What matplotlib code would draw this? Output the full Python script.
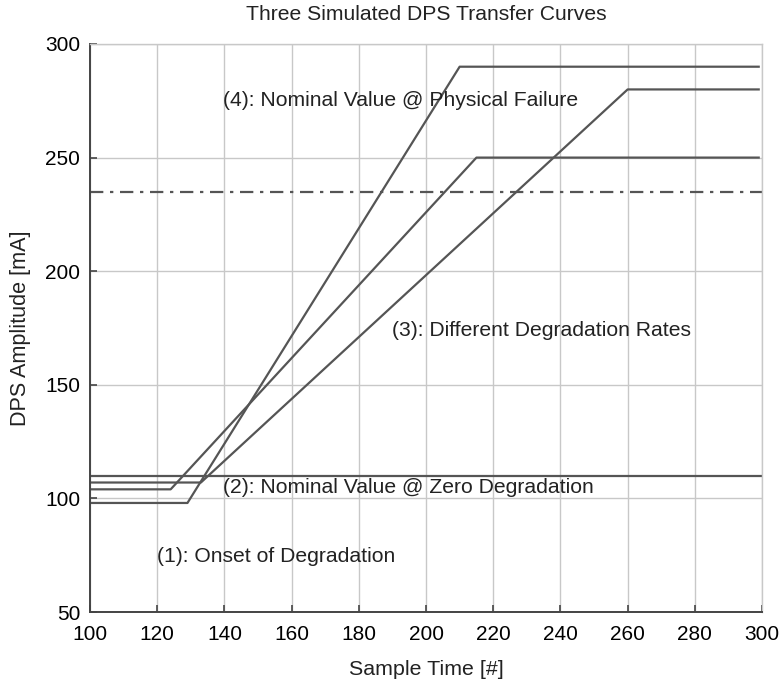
import matplotlib
matplotlib.use("Agg")
import matplotlib.pyplot as plt

plt.rcParams['font.family'] = ['Liberation Sans', 'DejaVu Sans']

# Data: piecewise-linear transfer curves (x breakpoints, y values)
curve_fast_x = [100, 129, 210, 299]
curve_fast_y = [98, 98, 290, 290]
curve_mid_x = [100, 124, 215, 299]
curve_mid_y = [104, 104, 250, 250]
curve_slow_x = [100, 133, 260, 299]
curve_slow_y = [107, 107, 280, 280]
nominal_zero = 110
failure_threshold = 235

x_ticks = [100, 120, 140, 160, 180, 200, 220, 240, 260, 280, 300]
y_ticks = [50, 100, 150, 200, 250, 300]

title = "Three Simulated DPS Transfer Curves"
xlabel = "Sample Time [#]"
ylabel = "DPS Amplitude [mA]"
annotations = [
    (139.6, 275, "(4): Nominal Value @ Physical Failure"),
    (189.8, 174, "(3): Different Degradation Rates"),
    (139.6, 104.6, "(2): Nominal Value @ Zero Degradation"),
    (120, 74.5, "(1): Onset of Degradation"),
]

line_color = "#555555"
grid_color = "#c8c8c8"

fig = plt.figure(figsize=(7.8, 6.82), dpi=100)
ax = fig.add_axes([0.1154, 0.1026, 0.8616, 0.8329])

ax.plot(curve_fast_x, curve_fast_y, color=line_color, lw=1.6)
ax.plot(curve_mid_x, curve_mid_y, color=line_color, lw=1.6)
ax.plot(curve_slow_x, curve_slow_y, color=line_color, lw=1.6)
ax.axhline(nominal_zero, color=line_color, lw=1.6)
ax.axhline(failure_threshold, color=line_color, lw=1.6, ls=(0, (6, 3, 1.5, 3)))

for x, y, s in annotations:
    ax.text(x, y, s, fontsize=15.2, va='center', ha='left', color='#222222')

ax.set_xlim(100, 300)
ax.set_ylim(50, 300)
ax.set_xticks(x_ticks)
ax.set_yticks(y_ticks)
ax.grid(True, color=grid_color, lw=1)
ax.tick_params(direction='in', length=5, width=1.2, color='#444444', labelsize=15, pad=7)
ax.tick_params(axis='x', pad=9)
for side in ['left', 'bottom']:
    ax.spines[side].set_color('#444444')
    ax.spines[side].set_linewidth(1.4)
for side in ['top', 'right']:
    ax.spines[side].set_color(grid_color)
    ax.spines[side].set_linewidth(1)

ax.set_title(title, fontsize=15.2, pad=17, color='#222222')
ax.set_xlabel(xlabel, fontsize=15.4, labelpad=12, color='#222222')
ax.set_ylabel(ylabel, fontsize=15.6, labelpad=10, color='#222222')

fig.savefig("out.png", dpi=100)
